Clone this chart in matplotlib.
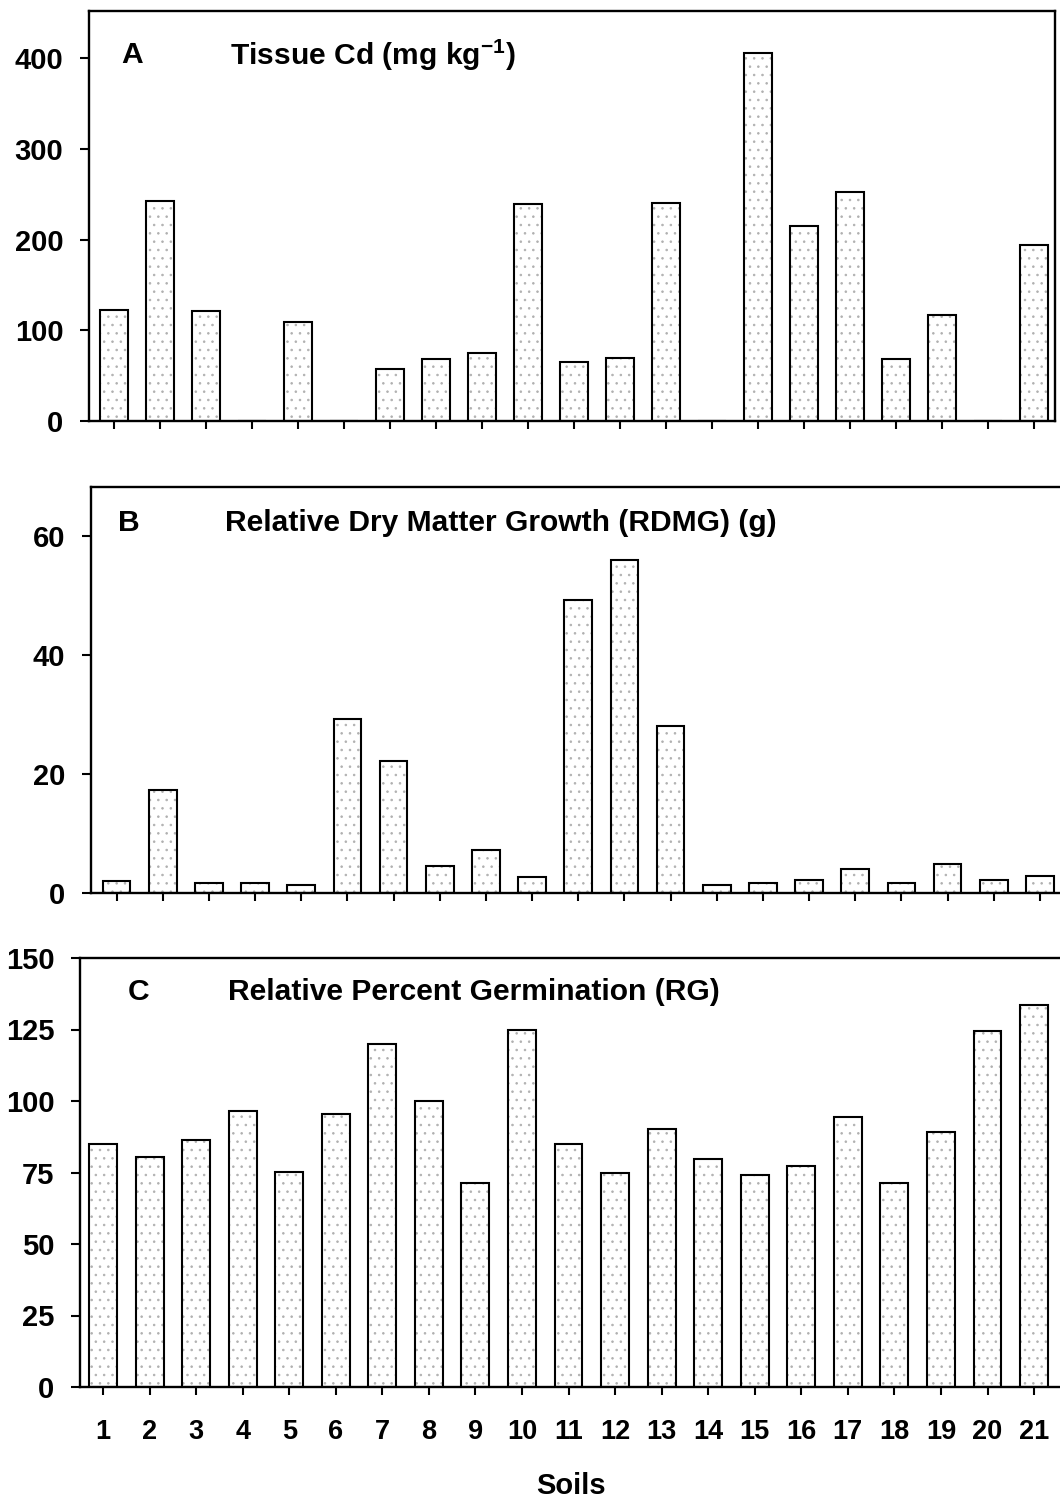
import matplotlib
matplotlib.use("Agg")
import matplotlib.pyplot as plt
import numpy as np

# Soil numbers and measured responses
soils = list(range(1, 22))
tissue_cd = [122, 242, 121, 0, 109, 0, 57, 68, 75, 239, 65, 69, 240, 0,
             406, 215, 252, 68, 117, 0, 194]
rdmg = [2.0, 17.3, 1.7, 1.6, 1.3, 29.2, 22.2, 4.6, 7.2, 2.7, 49.3, 56.0, 28.1,
        1.3, 1.6, 2.2, 4.0, 1.7, 4.9, 2.2, 2.8]
rg = [85, 80.5, 86.5, 96.6, 75.2, 95.3, 119.8, 100.1, 71.3, 124.8, 85, 75,
      90.2, 79.7, 74, 77.3, 94.3, 71.3, 89.3, 124.5, 133.5]

yticks_a = [0, 100, 200, 300, 400]
yticks_b = [0, 20, 40, 60]
yticks_c = [0, 25, 50, 75, 100, 125, 150]

plt.rcParams["font.family"] = ["Liberation Sans", "DejaVu Sans"]
plt.rcParams["font.weight"] = "bold"
plt.rcParams["mathtext.fontset"] = "custom"
plt.rcParams["mathtext.rm"] = "Liberation Sans:bold"
plt.rcParams["mathtext.bf"] = "Liberation Sans:bold"
plt.rcParams["hatch.linewidth"] = 0.6

W, H = 1060, 1501
fig = plt.figure(figsize=(W / 100, H / 100), dpi=100)


def box(left, top, right, bottom):
    return [left / W, 1 - bottom / H, (right - left) / W, (bottom - top) / H]


def px(x, y):
    return x / W, 1 - y / H


def panel(rect, values, xlim, ylim, yticks, show_right=True, xlabels=False):
    ax = fig.add_axes(rect)
    ax.bar(soils, values, width=0.6, color="white", edgecolor="#b0b0b0",
           hatch="..", linewidth=0, zorder=2)
    ax.bar(soils, values, width=0.6, fill=False, edgecolor="black",
           linewidth=1.5, zorder=3)
    ax.set_xlim(*xlim)
    ax.set_ylim(*ylim)
    ax.set_yticks(yticks)
    ax.set_xticks(soils)
    for s in ax.spines.values():
        s.set_linewidth(1.7)
    ax.spines["right"].set_visible(show_right)
    ax.tick_params(axis="y", direction="out", length=6.5, width=1.5,
                   pad=12, labelsize=21)
    ax.tick_params(axis="x", direction="out", length=6, width=1.5,
                   pad=17, labelsize=19.5)
    if xlabels:
        ax.set_xticklabels([str(s) for s in soils])
    else:
        ax.set_xticklabels([])
    for lab in ax.get_yticklabels() + ax.get_xticklabels():
        lab.set_fontweight("bold")
    return ax


ax_a = panel(box(89, 11, 1055, 421), tissue_cd, (0.457, 21.46), (0, 452),
             yticks_a, show_right=True)
ax_b = panel(box(91, 487, 1062, 893), rdmg, (0.446, 21.48), (0, 68.2),
             yticks_b, show_right=False)
ax_c = panel(box(80, 958, 1062, 1387), rg, (0.506, 21.6), (0, 150),
             yticks_c, show_right=False, xlabels=True)

title_kw = dict(fontsize=21.6, fontweight="bold", va="center", ha="left")
fig.text(*px(121, 55), "A", **title_kw)
fig.text(*px(230, 55), "Tissue Cd (mg kg$^{-1}$)", **title_kw)
fig.text(*px(118, 523), "B", **title_kw)
fig.text(*px(225, 523), "Relative Dry Matter Growth (RDMG) (g)", **title_kw)
fig.text(*px(128, 992), "C", **title_kw)
fig.text(*px(228, 992), "Relative Percent Germination (RG)", **title_kw)
fig.text(*px(571, 1486), "Soils", fontsize=21, fontweight="bold",
         ha="center", va="center")

fig.savefig("out.png", dpi=100, facecolor="white")
